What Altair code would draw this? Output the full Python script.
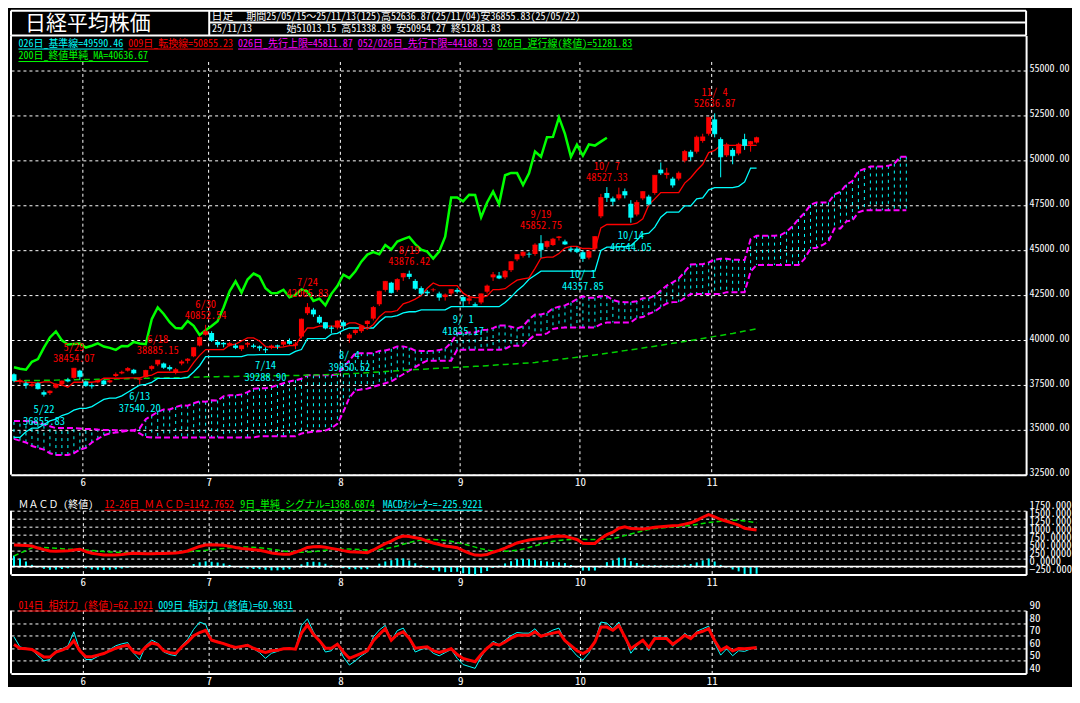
import unicodedata
import altair as alt
import pandas as pd

# ---------------- data ----------------
opens = [38100, 37700, 37600, 37450, 37600, 37100, 37050, 37350, 37550, 37800,
         37900, 38300, 37700, 37500, 37650, 37750, 37650, 38000, 38150, 38300,
         38350, 37800, 37950, 38400, 38650, 38700, 38500, 38200, 38700, 38850,
         39100, 39700, 40300, 40400, 39900, 39850, 39700, 39700, 39500, 39750,
         39700, 39650, 39500, 39600, 39700, 39750, 39950, 39700, 40200, 41500,
         41700, 41300, 41000, 40700, 40700, 41000, 40100, 40400, 40500, 40900,
         41200, 42000, 42800, 43200, 42800, 43500, 43700, 43300, 42900, 42700,
         42800, 42600, 42400, 42600, 42800, 42400, 42200, 42000, 42100, 42700,
         43500, 43600, 43500, 43900, 44500, 44700, 44800, 44800, 45400, 45200,
         45300, 45700, 45500, 45100, 45100, 44900, 44600, 45100, 46900, 48200,
         47900, 47900, 48300, 47600, 47000, 47900, 48000, 48200, 49500, 49200,
         49000, 49000, 50000, 50500, 50500, 51100, 51500, 52300, 51200, 50300,
         50600, 50400, 51200, 50900, 51013.15]
highs = [38150, 37850, 37700, 37650, 37650, 37200, 37200, 37600, 37750, 37900,
         38454.07, 38350, 37750, 37600, 37800, 37800, 37800, 38200, 38300, 38500,
         38400, 37900, 38350, 38600, 38885.15, 38750, 38600, 38450, 38900, 39000,
         39600, 40200, 40852.54, 40500, 40000, 39900, 39900, 39800, 39700, 39900,
         39800, 39700, 39600, 39750, 39750, 39950, 40100, 39900, 41200, 42065.83,
         41800, 41400, 41000, 40800, 41100, 41100, 40400, 40600, 40800, 41100,
         41900, 42750, 43300, 43250, 43450, 43750, 43876.42, 43400, 43000, 42800,
         42900, 42700, 42600, 42850, 42900, 42450, 42400, 42100, 42600, 43100,
         43800, 43800, 43900, 44400, 44800, 44950, 44900, 45400, 45852.75, 45550,
         45700, 45800, 45600, 45200, 45200, 45000, 45000, 45800, 48150, 48527.33,
         48000, 48500, 48450, 47800, 47800, 48300, 48100, 49200, 49900, 49600,
         49100, 49400, 50600, 50600, 51400, 51500, 52400, 52636.87, 51300, 51000,
         50700, 51000, 51500, 51100, 51338.89]
lows = [37650, 37550, 37300, 37400, 37250, 36855.83, 36950, 37300, 37450, 37650,
        37850, 37800, 37400, 37300, 37600, 37500, 37600, 37950, 38100, 38250,
        38100, 37540.20, 37900, 38300, 38550, 38400, 38300, 38100, 38600, 38700,
        39050, 39650, 40250, 39900, 39600, 39600, 39650, 39500, 39400, 39600,
        39550, 39400, 39288.90, 39500, 39500, 39650, 39750, 39500, 40100, 41400,
        41300, 40900, 40600, 40400, 40600, 40600, 39850.52, 40300, 40400, 40700,
        41100, 41900, 42700, 42600, 42700, 43300, 43400, 42800, 42500, 42500,
        42700, 42200, 42200, 42500, 42600, 41835.17, 42000, 41880, 42000, 42600,
        43300, 43400, 43400, 43800, 44400, 44600, 44600, 44700, 44600, 45100,
        45250, 45550, 45300, 44900, 44850, 44357.85, 44500, 45000, 46800, 47700,
        47500, 47800, 47900, 46544.05, 46900, 47800, 47500, 48100, 49200, 49000,
        48500, 48900, 49900, 50000, 50400, 51000, 51400, 51300, 49073, 50200,
        49800, 50300, 50600, 50500, 50954.27]
closes = [37755, 37754, 37499, 37529, 37299, 36986, 37160, 37532, 37724, 37722,
          38433, 37965, 37471, 37447, 37747, 37554, 37742, 38089, 38212, 38421,
          38173, 37834, 38311, 38537, 38885, 38488, 38403, 38354, 38791, 38942,
          39585, 40151, 40487, 39986, 39762, 39786, 39811, 39588, 39689, 39821,
          39646, 39570, 39460, 39678, 39663, 39901, 39819, 39775, 41171, 41826,
          41456, 40998, 40675, 40655, 41070, 40800, 40291, 40550, 40795, 41059,
          41820, 42718, 43275, 42649, 43378, 43714, 43546, 42889, 42610, 42633,
          42808, 42394, 42520, 42829, 42718, 42189, 42310, 41939, 42580, 43019,
          43644, 43459, 43838, 44373, 44768, 44902, 44790, 45303, 45046, 45494,
          45630, 45755, 45355, 45044, 44933, 44551, 44937, 45770, 47945, 47951,
          47735, 48100, 48089, 46847, 47673, 48278, 47582, 49186, 49316, 49308,
          48642, 49300, 50512, 50219, 51308, 51326, 52411, 51497, 50212, 50884,
          50276, 50912, 50843, 51063, 51281.83]
tenkan = [37700, 37700, 37650, 37650, 37600, 37675, 37675, 37530, 37503, 37378,
          37655, 37655, 37655, 37655, 37702, 37877, 37877, 37877, 37877, 37900,
          37900, 37900, 38000, 38050, 38213, 38213, 38213, 38213, 38220, 38270,
          38750, 39150, 39477, 39477, 39477, 39477, 39727, 39777, 39952, 40127,
          40127, 39950, 39645, 39595, 39595, 39620, 39695, 39695, 40245, 40678,
          40678, 40783, 40783, 40783, 40783, 40783, 40959, 40959, 40826, 40626,
          40876, 41301, 41576, 41576, 41651, 42025, 42138, 42288, 42488, 42888,
          43188, 43038, 43038, 43038, 43038, 42618, 42418, 42368, 42368, 42468,
          42818, 42818, 42868, 43118, 43340, 43415, 43475, 44000, 44577, 44627,
          44627, 44827, 45127, 45227, 45227, 45106, 45106, 45079, 46254, 46443,
          46443, 46443, 46443, 46443, 46514, 46764, 47536, 47872, 48222, 48222,
          48222, 48222, 48750, 49050, 49450, 49800, 50450, 50568, 50855, 50855,
          50855, 50855, 50855, 50855, 50855]
kijun = [34580, 34580, 34900, 35100, 35100, 35300, 35500, 35600, 35800, 35900,
         36100, 36200, 36200, 36300, 36500, 36700, 36770, 36770, 36900, 37100,
         37300, 37500, 37530, 37650, 37870, 37870, 37870, 37870, 37878, 37928,
         38228, 38575, 39077, 39077, 39077, 39077, 39077, 39077, 39077, 39177,
         39177, 39197, 39197, 39197, 39197, 39197, 39197, 39377, 39477, 40083,
         40083, 40083, 40083, 40333, 40383, 40558, 40678, 40678, 40678, 40678,
         40678, 41020, 41295, 41295, 41370, 41520, 41583, 41583, 41688, 41688,
         41688, 41688, 41688, 41864, 41864, 41864, 41864, 41864, 41864, 41864,
         41864, 41864, 42100, 42400, 42750, 43025, 43393, 43618, 43844, 43844,
         43844, 43844, 43844, 43844, 43844, 43844, 43844, 43844, 44993, 45181,
         45181, 45204, 45204, 45264, 45564, 45914, 45964, 46300, 46850, 47129,
         47129, 47129, 47479, 47479, 47879, 47929, 48379, 48497, 48497, 48497,
         48497, 48568, 48818, 49590, 49590]
span_a = [34500, 34400, 34300, 34100, 34000, 33900, 33700, 33600, 33600, 33600,
          33700, 33900, 34000, 34300, 34500, 34700, 34800, 34850, 34900, 34950,
          34980, 35100, 35600, 35800, 36000, 36140, 36140, 36275, 36375, 36350,
          36488, 36588, 36565, 36652, 36639, 36878, 36928, 36928, 36978, 37101,
          37289, 37324, 37324, 37389, 37500, 37600, 37700, 37765, 37850, 38042,
          38042, 38042, 38042, 38049, 38099, 38489, 38863, 39277, 39277, 39277,
          39277, 39402, 39427, 39515, 39652, 39652, 39574, 39421, 39396, 39396,
          39409, 39446, 39536, 39861, 40381, 40381, 40433, 40433, 40558, 40583,
          40671, 40819, 40819, 40752, 40652, 40777, 41161, 41436, 41436, 41511,
          41773, 41861, 41936, 42088, 42288, 42438, 42363, 42363, 42451, 42451,
          42241, 42141, 42116, 42116, 42166, 42341, 42341, 42484, 42759, 43045,
          43220, 43434, 43809, 44211, 44236, 44236, 44336, 44486, 44536, 44536,
          44475, 44475, 44462, 45624, 45812, 45812, 45824, 45824, 45854, 46039,
          46339, 46750, 47086, 47536, 47676, 47676, 47676, 48115, 48265, 48665,
          48865, 49415, 49533, 49676, 49676, 49676, 49712, 49837, 50223, 50223]
span_b = [35500, 35500, 35500, 35450, 35400, 35300, 35200, 35100, 35100, 35100,
          35100, 35080, 35050, 35050, 35020, 35000, 35000, 34980, 34970, 34960,
          34960, 34800, 34600, 34580, 34580, 34580, 34580, 34580, 34580, 34580,
          34580, 34580, 34580, 34580, 34580, 34580, 34580, 34580, 34580, 34580,
          34580, 34650, 34650, 34650, 34650, 34650, 34650, 34650, 34800, 34850,
          34900, 34930, 34960, 35100, 35340, 36000, 36800, 37200, 37250, 37300,
          37400, 37500, 37600, 37700, 37900, 38100, 38300, 38500, 38700, 38855,
          38855, 38855, 38855, 38855, 39461, 39461, 39461, 39461, 39461, 39461,
          39461, 39461, 39508, 39683, 39683, 39683, 40025, 40300, 40300, 40375,
          40625, 40688, 40708, 40708, 40708, 40708, 40708, 40708, 40888, 40988,
          40988, 40988, 40988, 40988, 41238, 41288, 41463, 41594, 41844, 42044,
          42119, 42119, 42344, 42571, 42571, 42571, 42571, 42571, 42571, 42676,
          42676, 42676, 42676, 43825, 44189, 44189, 44189, 44189, 44189, 44189,
          44189, 44189, 44525, 45100, 45150, 45300, 45500, 46218, 46218, 46618,
          46668, 47118, 47236, 47236, 47236, 47236, 47236, 47236, 47236, 47236]
ma200 = [37735, 37741, 37746, 37752, 37757, 37760, 37766, 37773, 37781, 37788,
         37797, 37803, 37807, 37812, 37819, 37824, 37831, 37839, 37847, 37856,
         37862, 37866, 37873, 37881, 37890, 37896, 37901, 37907, 37915, 37924,
         37934, 37945, 37956, 37962, 37967, 37972, 37976, 37981, 37986, 37992,
         37997, 38001, 38004, 38009, 38014, 38020, 38025, 38029, 38040, 38053,
         38063, 38071, 38078, 38086, 38095, 38112, 38130, 38149, 38166, 38184,
         38205, 38228, 38251, 38272, 38294, 38318, 38340, 38360, 38378, 38396,
         38414, 38432, 38450, 38470, 38489, 38506, 38523, 38540, 38560, 38580,
         38602, 38625, 38648, 38670, 38691, 38712, 38733, 38755, 38795, 38836,
         38878, 38920, 38962, 39004, 39046, 39088, 39131, 39175, 39222, 39270,
         39318, 39367, 39417, 39465, 39513, 39563, 39612, 39664, 39717, 39770,
         39822, 39875, 39930, 39984, 40040, 40096, 40153, 40210, 40264, 40320,
         40375, 40440, 40505, 40570, 40637]
macd = [675, 670, 660, 645, 580, 530, 490, 480, 485, 492,
        520, 545, 467, 420, 390, 364, 360, 366, 380, 400,
        416, 410, 405, 402, 406, 412, 418, 424, 450, 488,
        560, 630, 675, 682, 678, 668, 640, 600, 569, 550,
        530, 509, 470, 425, 402, 390, 386, 450, 518, 600,
        623, 628, 603, 570, 539, 500, 467, 455, 445, 437,
        520, 620, 720, 800, 900, 955, 940, 904, 870, 800,
        740, 690, 645, 620, 590, 500, 420, 360, 352, 380,
        450, 509, 580, 660, 740, 790, 830, 860, 880, 910,
        940, 955, 950, 900, 849, 730, 722, 726, 883, 1000,
        1078, 1200, 1244, 1190, 1184, 1180, 1200, 1230, 1244, 1260,
        1275, 1290, 1330, 1370, 1450, 1545, 1630, 1560, 1473, 1420,
        1360, 1300, 1200, 1170, 1143]
signal = [330, 420, 500, 590, 600, 600, 590, 575, 560, 545,
          539, 530, 520, 505, 490, 470, 458, 450, 440, 430,
          420, 415, 412, 412, 415, 420, 430, 440, 450, 465,
          480, 495, 510, 530, 550, 570, 590, 600, 610, 612,
          605, 590, 570, 545, 520, 490, 470, 455, 450, 455,
          470, 490, 515, 535, 545, 550, 548, 540, 530, 520,
          515, 530, 560, 600, 645, 700, 750, 800, 830, 845,
          850, 840, 820, 790, 750, 710, 660, 610, 560, 520,
          490, 480, 480, 490, 510, 550, 600, 650, 700, 750,
          790, 820, 840, 850, 855, 855, 850, 850, 855, 860,
          880, 920, 970, 1020, 1070, 1120, 1160, 1190, 1210, 1230,
          1240, 1250, 1270, 1290, 1320, 1350, 1380, 1400, 1420, 1440,
          1450, 1450, 1430, 1400, 1369]
hist = [345, 250, 160, 55, -20, -70, -100, -95, -75, -53,
        -19, 15, -53, -85, -100, -106, -98, -84, -60, -30,
        -4, -5, -7, -10, -9, -8, -12, -16, 0, 23,
        80, 135, 165, 152, 128, 98, 50, 0, -41, -62,
        -75, -81, -100, -120, -118, -100, -84, -5, 68, 145,
        153, 138, 88, 35, -6, -50, -81, -85, -85, -83,
        5, 90, 160, 200, 255, 255, 190, 104, 40, -45,
        -110, -150, -175, -170, -160, -210, -240, -250, -208, -140,
        -40, 29, 100, 170, 230, 240, 230, 210, 180, 160,
        150, 135, 110, 50, -6, -125, -128, -124, 28, 140,
        198, 280, 274, 170, 114, 60, 40, 40, 34, 30,
        35, 40, 60, 80, 130, 195, 250, 160, 53, -20,
        -90, -150, -230, -230, -226]
rsi14 = [63, 60, 59.5, 59, 56, 53, 53, 57, 58.5, 60.6,
         66, 58, 53.2, 53.2, 54.5, 55.8, 58, 60, 61.5, 62.4,
         57, 55.8, 61, 64.2, 63, 58, 56.5, 55.8, 61, 65,
         70, 72.5, 74.3, 66.3, 65, 63.7, 62, 60.6, 61.5, 62.4,
         60, 58, 56.6, 58, 58.4, 59.5, 59.7, 59.2, 72, 78.5,
         71, 66, 60, 60, 63.2, 57, 52, 54, 56, 58,
         66, 71, 75.6, 66.3, 71, 73, 68, 60, 60.5, 61.1,
         58, 56.6, 58, 59.7, 55, 51.9, 50.5, 49.2, 55, 60,
         63.7, 62.4, 65, 68, 70.3, 70.3, 70.3, 73, 69.5, 71,
         72, 73, 66, 62, 58, 55.8, 58.4, 65, 76.8, 76.8,
         74.3, 78, 69, 59.7, 63, 66.3, 60.6, 67.7, 67.7, 67.7,
         63.2, 66.5, 70.3, 67.7, 72.1, 73.5, 75.6, 66, 58.4, 61.1,
         57.9, 59.7, 59.5, 60, 60.6]
rsi9 = [69, 61, 60, 59, 54, 50, 51, 58, 59.5, 62,
        73, 58, 51, 51, 53.5, 56, 59, 62, 63.5, 64.5,
        56, 51, 62, 66.5, 64, 57, 55, 54, 62, 67,
        75, 80.8, 79, 67, 65.5, 64, 62, 59.5, 61.5, 63,
        59.5, 56.5, 52, 56, 57.5, 59.5, 60, 59, 78, 83.4,
        73, 66, 57, 58, 64, 53, 46.6, 50, 54, 57,
        69, 74.5, 78.2, 66, 74, 76, 68, 57, 59, 60.5,
        56, 54, 56.5, 59, 52, 47, 45.5, 44, 53, 60,
        65.5, 63, 66.5, 70, 72.5, 72, 72, 75.5, 70, 72,
        74.5, 76, 66, 59.5, 54, 50.6, 56, 66, 80.8, 80,
        75.5, 80.8, 69, 56, 62, 67, 58, 69, 68.5, 69,
        61.5, 66, 72, 68, 73.5, 75.5, 77.5, 64, 54.5, 59.5,
        54, 58, 57.5, 59.5, 61]

month_pos = [11.5, 32.5, 54.5, 74.5, 94.5, 116.5]
month_lab = ["6", "7", "8", "9", "10", "11"]
main_ticks = [32500, 35000, 37500, 40000, 42500, 45000, 47500, 50000, 52500, 55000]
macd_ticks = [-250, 0, 250, 500, 750, 1000, 1250, 1500, 1750]
rsi_ticks = [40, 50, 60, 70, 80, 90]

hi_idx = [10, 24, 32, 49, 66, 88, 99, 117]
hi_date = ["5/29", "6/18", "6/30", "7/24", "8/19", "9/19", "10/ 7", "11/ 4"]
hi_num = ["38454.07", "38885.15", "40852.54", "42065.83", "43876.42", "45852.75", "48527.33", "52636.87"]
lo_idx = [5, 21, 42, 56, 75, 95, 103]
lo_date = ["5/22", "6/13", "7/14", "8/ 4", "9/ 1", "10/ 1", "10/14"]
lo_num = ["36855.83", "37540.20", "39288.90", "39850.52", "41835.17", "44357.85", "46544.05"]

title_text = "日経平均株価"
head_1a = "日足"
head_1b = "期間25/05/15～25/11/13(125)高52636.87(25/11/04)安36855.83(25/05/22)"
head_2a = "25/11/13"
head_2b = "始51013.15 高51338.89 安50954.27 終51281.83"
main_leg1 = [("026日_基準線=49590.46", "#00FFFF"), ("009日_転換線=50855.23", "#FF0000"),
             ("026日_先行上限=45811.87", "#FF00FF"), ("052/026日_先行下限=44188.93", "#FF00FF"),
             ("026日_遅行線(終値)=51281.83", "#00FF00")]
main_leg2 = [("200日_終値単純_MA=40636.67", "#00FF00")]
macd_leg = [(7.5, "ＭＡＣＤ (終値)", "#FFFFFF", False), (93.6, "12-26日_ＭＡＣＤ=1142.7652", "#FF0000", True),
            (229.6, "9日_単純_シグナル=1368.6874", "#00FF00", True), (372.5, "MACDｵｼﾚｰﾀｰ=-225.9221", "#00FFFF", True)]
rsi_leg = [(7.5, "014日_相対力 (終値)=62.1921", "#FF0000"), (147.6, "009日_相対力 (終値)=60.9831", "#00FFFF")]

# ---------------- styling / layout ----------------
FONT = "Noto Sans Mono CJK JP, Noto Sans CJK JP, DejaVu Sans Mono, monospace"
RED, CYAN, MAGENTA, GREEN, WHITE = "#FF0000", "#00FFFF", "#FF00FF", "#00FF00", "#FFFFFF"
W = 1017
MAIN_H, MACD_H, RSI_H = 440, 64, 63
XDOM = [-0.5, 169]
ONE = pd.DataFrame({"k": [0]})


def hw(s):
    return sum(2 if unicodedata.east_asian_width(ch) in "FW" else 1 for ch in s)


def txt(x, y, s, color, size=10, align="left"):
    return alt.Chart(ONE).mark_text(text=s, color=color, fontSize=size, font=FONT,
                                    align=align, baseline="middle").encode(
        x=alt.value(x), y=alt.value(y))


def hline(x0, x1, y, color=WHITE, w=2):
    return alt.Chart(ONE).mark_rule(color=color, strokeWidth=w).encode(
        x=alt.value(x0), x2=alt.value(x1), y=alt.value(y))


def vline(x, y0, y1, color=WHITE, w=2):
    return alt.Chart(ONE).mark_rule(color=color, strokeWidth=w).encode(
        x=alt.value(x), y=alt.value(y0), y2=alt.value(y1))


xscale = alt.Scale(domain=XDOM, nice=False, zero=False, padding=0)
month_expr = "''"
for p, lab in reversed(list(zip(month_pos, month_lab))):
    month_expr = f"abs(datum.value - {p}) < 0.6 ? '{lab}' : ({month_expr})"


def x_axis(grid):
    return alt.Axis(values=month_pos, labelExpr=month_expr, grid=grid, gridColor=WHITE,
                    gridDash=[3, 3], gridWidth=1, ticks=False, domain=True, domainColor=WHITE,
                    domainWidth=2, labelColor=WHITE, labelFont=FONT, labelFontSize=11,
                    labelPadding=2, labelFlush=False, labelOverlap=False, title=None)


def y_axis(values, baseline, size, fmt=None, expr=None, offset=0):
    kw = dict(orient="right", values=values, grid=True, gridColor=WHITE, gridDash=[3, 3],
              gridWidth=1, ticks=False, domain=True, domainColor=WHITE, domainWidth=2,
              labelColor=WHITE, labelFont=FONT, labelFontSize=size, labelPadding=3,
              labelBaseline=baseline, labelOverlap=False, labelBound=False, title=None,
              labelOffset=offset)
    if fmt:
        kw["format"] = fmt
    if expr:
        kw["labelExpr"] = expr
    return alt.Axis(**kw)


# ---------------- main panel ----------------
my_scale = alt.Scale(domain=[32500, 56970], nice=False, zero=False, padding=0)
my_axis = y_axis(main_ticks, "middle", 10, fmt=".2f", offset=-2)
mx_axis = x_axis(False)


def MX(f):
    return alt.X(f, type="quantitative", scale=xscale, axis=mx_axis)


def MY(f):
    return alt.Y(f, type="quantitative", scale=my_scale, axis=my_axis)


cdf = pd.DataFrame({"idx": list(range(len(closes))), "o": opens, "h": highs, "l": lows, "c": closes})
cdf["dir"] = ["up" if c >= o else "dn" for o, c in zip(opens, closes)]
ccol = alt.Color("dir:N", scale=alt.Scale(domain=["up", "dn"], range=[RED, CYAN]), legend=None)

cloud = pd.DataFrame({"j": list(range(len(span_a))), "a": span_a, "b": span_b})
lines = pd.DataFrame({"idx": list(range(len(closes))), "ten": tenkan, "kij": kijun, "ma": ma200})
chikou = pd.DataFrame({"pos": list(range(len(closes) - 25)), "v": closes[25:]})
months = pd.DataFrame({"pos": month_pos})
hi_df = pd.DataFrame({"idx": hi_idx, "val": [highs[i] for i in hi_idx], "d": hi_date, "n": hi_num})
lo_df = pd.DataFrame({"idx": lo_idx, "val": [lows[i] for i in lo_idx], "d": lo_date, "n": lo_num})

main_layers = [
    alt.Chart(months).mark_rule(color=WHITE, strokeDash=[3, 3], strokeWidth=1).encode(
        x=MX("pos"), y=alt.YDatum(55500, type="quantitative", scale=my_scale, axis=my_axis),
        y2=alt.Y2Datum(32500)),
    alt.Chart(cloud).mark_rule(color=CYAN, strokeWidth=1, strokeDash=[3, 4]).encode(
        x=MX("j"), y=MY("a"), y2="b"),
    alt.Chart(cloud).mark_line(color=MAGENTA, strokeWidth=2, strokeDash=[6, 3]).encode(x=MX("j"), y=MY("a")),
    alt.Chart(cloud).mark_line(color=MAGENTA, strokeWidth=2, strokeDash=[6, 3]).encode(x=MX("j"), y=MY("b")),
    alt.Chart(lines).mark_line(color="#00D000", strokeWidth=1.5, strokeDash=[6, 4]).encode(x=MX("idx"), y=MY("ma")),
    alt.Chart(lines).mark_line(color=CYAN, strokeWidth=1.3).encode(x=MX("idx"), y=MY("kij")),
    alt.Chart(lines).mark_line(color=RED, strokeWidth=1.3).encode(x=MX("idx"), y=MY("ten")),
    alt.Chart(chikou).mark_line(color=GREEN, strokeWidth=2.5).encode(x=MX("pos"), y=MY("v")),
    alt.Chart(cdf).mark_rule(strokeWidth=1).encode(x=MX("idx"), y=MY("l"), y2="h", color=ccol),
    alt.Chart(cdf).mark_bar(size=5, orient="vertical").encode(x=MX("idx"), y=MY("o"), y2="c", color=ccol),
    alt.Chart(cdf).mark_tick(orient="horizontal", size=5, thickness=1).encode(x=MX("idx"), y=MY("c"), color=ccol),
    alt.Chart(hi_df).mark_text(color=RED, font=FONT, fontSize=10.5, dy=-20).encode(x=MX("idx"), y=MY("val"), text="d"),
    alt.Chart(hi_df).mark_text(color=RED, font=FONT, fontSize=10.5, dy=-9).encode(x=MX("idx"), y=MY("val"), text="n"),
    alt.Chart(lo_df).mark_text(color=CYAN, font=FONT, fontSize=10.5, dy=13).encode(x=MX("idx"), y=MY("val"), text="d"),
    alt.Chart(lo_df).mark_text(color=CYAN, font=FONT, fontSize=10.5, dy=25).encode(x=MX("idx"), y=MY("val"), text="n"),
]

# legends of the main panel
x = 7.5
for s, col in main_leg1:
    main_layers.append(txt(x, 8, s, col))
    main_layers.append(hline(x, x + hw(s) * 5, 13.5, col, 1))
    x += hw(s) * 5 + 5
for s, col in main_leg2:
    main_layers.append(txt(7.5, 20.5, s, col))
    main_layers.append(hline(7.5, 7.5 + hw(s) * 5, 26, col, 1))

# header
main_layers += [
    hline(0, W, -25), hline(198.6, W, -13), hline(0, W, 0),
    vline(0, -25, 0), vline(198.6, -25, 0), vline(W, -25, 0),
    vline(0, 0, MAIN_H),
    txt(77, -12, title_text, WHITE, size=21, align="center"),
    txt(201, -18.6, head_1a, WHITE, size=11),
    txt(235.8, -18.8, head_1b, WHITE),
    txt(201.4, -6.5, head_2a, WHITE),
    txt(276, -6.5, head_2b, WHITE),
]

main = alt.layer(*main_layers).properties(width=W, height=MAIN_H)

# ---------------- MACD panel ----------------
macd_df = pd.DataFrame({"idx": list(range(len(macd))), "m": macd, "s": signal, "h": hist})
m_scale = alt.Scale(domain=[-250, 1750], nice=False, zero=False, padding=0)
m_axis = y_axis(macd_ticks, "bottom", 10.5, expr="substring(format(datum.value, '.4f'), 0, 8)")
lx_axis = x_axis(True)


def LX(f):
    return alt.X(f, type="quantitative", scale=xscale, axis=lx_axis)


def MMY(f):
    return alt.Y(f, type="quantitative", scale=m_scale, axis=m_axis)


macd_layers = [
    alt.Chart(macd_df).mark_bar(size=2, color=CYAN, orient="vertical").encode(
        x=LX("idx"), y=MMY("h"), y2=alt.Y2Datum(0)),
    alt.Chart(ONE).mark_rule(color=WHITE, strokeWidth=1.5).encode(
        y=alt.YDatum(0, type="quantitative", scale=m_scale, axis=m_axis)),
    alt.Chart(macd_df).mark_line(color="#00E000", strokeWidth=1.5, strokeDash=[5, 3]).encode(x=LX("idx"), y=MMY("s")),
    alt.Chart(macd_df).mark_line(color=RED, strokeWidth=3).encode(x=LX("idx"), y=MMY("m")),
    vline(0, 0, MACD_H),
]
for x0, s, col, ul in macd_leg:
    macd_layers.append(txt(x0, -6, s, col))
    if ul:
        macd_layers.append(hline(x0, x0 + hw(s) * 5, -0.5, col, 1))
macd_chart = alt.layer(*macd_layers).properties(width=W, height=MACD_H)

# ---------------- RSI panel ----------------
rsi_df = pd.DataFrame({"idx": list(range(len(rsi14))), "r14": rsi14, "r9": rsi9})
r_scale = alt.Scale(domain=[40, 90], nice=False, zero=False, padding=0)
r_axis = y_axis(rsi_ticks, "bottom", 11, fmt="d")


def RY(f):
    return alt.Y(f, type="quantitative", scale=r_scale, axis=r_axis)


rsi_layers = [
    alt.Chart(rsi_df).mark_line(color=CYAN, strokeWidth=1).encode(x=LX("idx"), y=RY("r9")),
    alt.Chart(rsi_df).mark_line(color=RED, strokeWidth=3).encode(x=LX("idx"), y=RY("r14")),
    vline(0, 0, RSI_H),
]
for x0, s, col in rsi_leg:
    rsi_layers.append(txt(x0, -5, s, col))
    rsi_layers.append(hline(x0, x0 + hw(s) * 5, 0.5, col, 1))
rsi_chart = alt.layer(*rsi_layers).properties(width=W, height=RSI_H)

chart = alt.vconcat(main, macd_chart, rsi_chart, spacing=36, bounds="flush").properties(
    background="black", padding={"top": 1, "left": 0, "right": 0, "bottom": 0}
).configure_view(stroke=None)

chart.save("out.html", embed_options={"renderer": "svg", "actions": False})
